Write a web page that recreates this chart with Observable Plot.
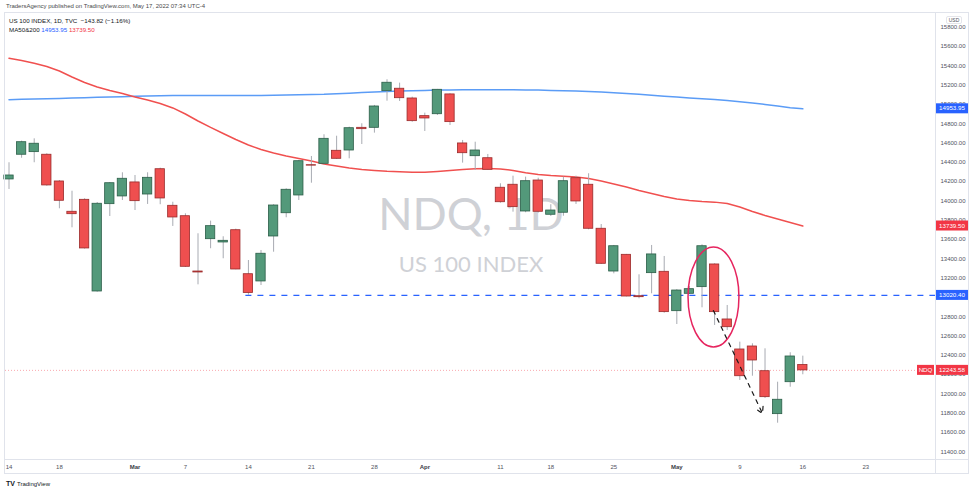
<!DOCTYPE html>
<html><head><meta charset="utf-8">
<script src="https://cdn.jsdelivr.net/npm/d3@7"></script>
<script src="https://cdn.jsdelivr.net/npm/@observablehq/plot@0.6"></script>
<style>
body{margin:0;background:#fff;width:975px;height:491px;overflow:hidden;font-family:"Liberation Sans",Arial,sans-serif;}
#hdr{height:12px;font-size:6px;color:#4a4a4a;padding-left:6px;line-height:12px;white-space:nowrap;}
#chart svg{display:block;}
</style></head><body>
<div id="hdr">TradersAgency published on TradingView.com, May 17, 2022 07:34 UTC-4</div>
<div id="chart"></div>
<script>
// Daily candles, Feb 14 – May 16 2022 (trading-day index 0..63)
const open = [14222,14478,14505,14478,14201,13887,14011,13061,13966,14046,
  14191,14066,14328,13949,13841,13268,13603,13569,13696,13240,
  13165,13631,13872,14056,14370,14384,14519,14522,14757,14757,
  15137,15162,15061,14878,14898,15103,14595,14463,14442,14136,
  14167,13890,14211,13856,13877,14235,14167,13711,13268,13441,
  13012,13251,13265,12857,13037,13106,13341,12771,12460,12491,
  12235,11790,12121,12300];
const high = [14395,14619,14643,14488,14211,14100,14022,13983,14190,14291,
  14263,14291,14339,13986,13866,13659,13790,13628,13707,13382,
  13486,13960,14125,14419,14460,14685,14670,14764,14799,14989,
  15255,15220,15075,14909,15155,15110,14626,14608,14481,14177,
  14256,14246,14235,13960,14246,14256,14281,13755,13538,13445,
  13234,13538,13424,13080,13113,13545,13348,12916,12536,12519,
  12467,12121,12426,12391];
const low = [14118,14442,14395,14152,13918,13721,13500,13054,13838,14004,
  13900,13963,13960,13735,13310,13130,13504,13400,13286,13020.4,
  13123,13468,13825,14004,14183,14374,14430,14436,14584,14702,
  15033,15030,14815,14719,14885,14781,14391,14315,14315,13976,
  13883,13877,13873,13838,13841,13963,13700,13341,13244,13005,
  12985,13037,12836,12719,13030,12892,12709,12657,12139,12183,
  11952,11696,12069,12198];
const close = [14263,14608,14592,14160,14001,13862,13507,13970,14183,14229,
  13997,14239,14025,13828,13317,13258,13738,13586,13289,13046,
  13452,13952,14115,14411,14365,14643,14436,14753,14743,14978,
  15224,15064,14826,14854,15151,14816,14494,14522,14322,13986,
  13935,14204,13887,13900,14204,13994,13711,13348,13530,13009,
  13002,13445,12847,13071,13085,13530,12847,12691,12183,12346,
  11966,11939,12387.4,12243.58];
const ma50 = [15478,15455,15427,15393,15346,15284,15227,15180,15144,15113,
  15077,15046,15009,14963,14900,14828,14761,14698,14636,14579,
  14533,14496,14465,14439,14413,14382,14362,14341,14325,14315,
  14307,14302,14297,14297,14305,14315,14325,14333,14336,14331,
  14315,14291,14274,14263,14255,14248,14232,14206,14175,14144,
  14108,14077,14046,14020,14004,13994,13987,13973,13937,13890,
  13849,13812,13776,13739.5];
const ma200 = [15049,15052,15055,15058,15061,15065,15069,15074,15077,15080,
  15083,15086,15089,15091,15092,15092,15092,15092,15092,15092,
  15093,15095,15097,15100,15102,15104,15110,15116,15122,15129,
  15134,15138,15142,15145,15148,15150,15151,15151,15151,15151,
  15151,15150,15148,15145,15142,15138,15134,15127,15120,15113,
  15105,15094,15085,15076,15067,15058,15051,15040,15028,15015,
  14999,14983,14966,14953.95];
// axis ticks
const dayTickIdx = [0,4,14,19,24,29,39,43,48,58,63,68];
const dayTickLabels = ["14","18","7","14","21","28","11","18","25","9","16","23"];
const monthTickIdx = [10,33,53];
const monthTickLabels = ["Mar","Apr","May"];
const priceTicks = [11400,11600,11800,12000,12200,12400,12600,12800,13000,13200,13400,13600,13800,14000,14200,14400,14600,14800,15000,15200,15400,15600,15800];
// annotations
const supportLevel = 13020.4, supportStartIdx = 18.8;
const lastPrice = 12243.58;
const arrowPts = [{x1:55.9, y1:12864, x2:59.8, y2:11797}];
const ellipseSpec = {cx:55.95, cy:12999, rx:2.02, ry:518};
const xDomain = [-0.278, 73.53];
const yDomain = [11320, 15952];

const GREEN = "#53997a", GREEN_D = "#2b5e48", RED = "#ef4f4f", RED_D = "#9a2b2b";
const candles = open.map((o,i)=>({i, o, h:high[i], l:low[i], c:close[i], up: close[i] >= o}));
const ma50Pts = ma50.map((v,i)=>({i, v}));
const ma200Pts = ma200.map((v,i)=>({i, v}));
const dayLab = new Map(dayTickIdx.map((v,k)=>[v, dayTickLabels[k]]));
const monLab = new Map(monthTickIdx.map((v,k)=>[v, monthTickLabels[k]]));
const FONT = "Liberation Sans, Arial, sans-serif";

const chart = Plot.plot({
  width: 975, height: 479,
  marginLeft: 5, marginRight: 40, marginTop: 0, marginBottom: 32,
  x: {domain: xDomain, axis: null},
  y: {domain: yDomain, axis: null},
  color: {type: "identity"},
  style: {fontFamily: FONT, background: "#fff", overflow: "visible"},
  marks: [
    Plot.axisY(priceTicks, {anchor: "right", tickSize: 0, tickPadding: 5, label: null,
      tickFormat: d => d.toFixed(2), fontSize: 6, color: "#50535e"}),
    Plot.axisX(dayTickIdx, {tickSize: 0, tickPadding: 5, label: null,
      tickFormat: d => dayLab.get(d), fontSize: 6, color: "#50535e"}),
    Plot.axisX(monthTickIdx, {tickSize: 0, tickPadding: 5, label: null,
      tickFormat: d => monLab.get(d), fontSize: 6, fontWeight: "bold", color: "#3a3d46"}),
    Plot.ruleY([lastPrice], {stroke: "#f23645", strokeOpacity: 0.55, strokeDasharray: "1,2", strokeWidth: 0.8}),
    Plot.line(ma200Pts, {x: "i", y: "v", stroke: "#5b9cf6", strokeWidth: 1.5}),
    Plot.line(ma50Pts, {x: "i", y: "v", stroke: "#f0504f", strokeWidth: 1.5}),
    Plot.ruleY([{y: supportLevel, x1: supportStartIdx, x2: xDomain[1]}],
      {y: "y", x1: "x1", x2: "x2", stroke: "#2962ff", strokeWidth: 1.4, strokeDasharray: "6,6"}),
    Plot.ruleX(candles, {x: "i", y1: "l", y2: "h", stroke: "#a8abb2", strokeWidth: 1}),
    Plot.rect(candles, {x1: d => d.i - 0.37, x2: d => d.i + 0.37,
      y1: d => Math.min(d.o, d.c), y2: d => Math.max(d.o, d.c),
      fill: d => d.up ? GREEN : RED, stroke: d => d.up ? GREEN_D : RED_D, strokeWidth: 0.8}),
    Plot.arrow(arrowPts, {x1: "x1", y1: "y1", x2: "x2", y2: "y2", stroke: "#1a1a1a",
      strokeWidth: 1.2, strokeDasharray: "4,5", headLength: 9})
  ]
});
document.getElementById("chart").append(chart);

const svg = d3.select(chart);
const xs = chart.scale("x"), ys = chart.scale("y");
// watermark behind everything
const wm = svg.insert("g", "g").attr("fill", "#cfd1d6").attr("font-family", "Lato, 'Open Sans', sans-serif").attr("text-anchor", "middle");
wm.append("text").attr("x", 471).attr("y", 218).attr("font-size", 45).text("NDQ, 1D");
wm.append("text").attr("x", 471).attr("y", 260).attr("font-size", 22).text("US 100 INDEX");

// ellipse annotation positioned through the scales
svg.append("ellipse")
  .attr("cx", xs.apply(ellipseSpec.cx)).attr("cy", ys.apply(ellipseSpec.cy))
  .attr("rx", xs.apply(ellipseSpec.cx + ellipseSpec.rx) - xs.apply(ellipseSpec.cx))
  .attr("ry", ys.apply(ellipseSpec.cy - ellipseSpec.ry) - ys.apply(ellipseSpec.cy))
  .attr("fill", "none").attr("stroke", "#e6255f").attr("stroke-width", 1.5);

// panel borders
const bc = "#e0e3eb";
const fr = svg.append("g").attr("stroke", bc).attr("fill", "none").attr("stroke-width", 1);
fr.append("rect").attr("x", 4.5).attr("y", 0.5).attr("width", 964).attr("height", 461);
fr.append("line").attr("x1", 935.5).attr("x2", 935.5).attr("y1", 0).attr("y2", 461);
fr.append("line").attr("x1", 5).attr("x2", 969).attr("y1", 447.5).attr("y2", 447.5);

// legend text
const lg = svg.append("g").attr("font-family", FONT).attr("font-size", 6.2).attr("fill", "#131722").attr("text-anchor", "start");
lg.append("text").attr("x", 9).attr("y", 11).text("US 100 INDEX, 1D, TVC  \u2212143.82 (\u22121.16%)");
const l2 = lg.append("text").attr("x", 9).attr("y", 19.5);
l2.append("tspan").text("MA50&200 ");
l2.append("tspan").attr("fill", "#2962ff").text(ma200[ma200.length-1].toFixed(2) + " ");
l2.append("tspan").attr("fill", "#f23645").text(ma50[ma50.length-1].toFixed(2));

// USD tag
svg.append("rect").attr("x", 946.5).attr("y", 4.5).attr("width", 15).attr("height", 7).attr("rx", 1.5)
  .attr("fill", "#fff").attr("stroke", "#d1d4dc").attr("stroke-width", 0.6);
svg.append("text").attr("x", 954).attr("y", 10).attr("text-anchor", "middle").attr("font-size", 5)
  .attr("font-family", FONT).attr("fill", "#50535e").text("USD");

// price labels on the scale
function priceTag(v, color, x = 936, w = 32, txt = null) {
  const y = ys.apply(v);
  svg.append("rect").attr("x", x).attr("y", y - 5).attr("width", w).attr("height", 10).attr("fill", color);
  svg.append("text").attr("x", x + w / 2).attr("y", y + 2.1).attr("text-anchor", "middle")
    .attr("font-size", 6.2).attr("font-family", FONT).attr("fill", "#fff").text(txt ?? v.toFixed(2));
}
priceTag(ma200[ma200.length-1], "#2962ff");
priceTag(ma50[ma50.length-1], "#f23645");
priceTag(supportLevel, "#2962ff");
priceTag(lastPrice, "#f23645");
priceTag(lastPrice, "#f23645", 917, 17, "NDQ");

// TradingView logo text
const logo = svg.append("g").attr("font-family", FONT).attr("fill", "#131722").attr("text-anchor", "start");
logo.append("text").attr("x", 6).attr("y", 474).attr("font-size", 7).attr("font-weight", "bold").text("TV");
logo.append("text").attr("x", 17).attr("y", 474).attr("font-size", 6).text("TradingView");
</script>
</body></html>
